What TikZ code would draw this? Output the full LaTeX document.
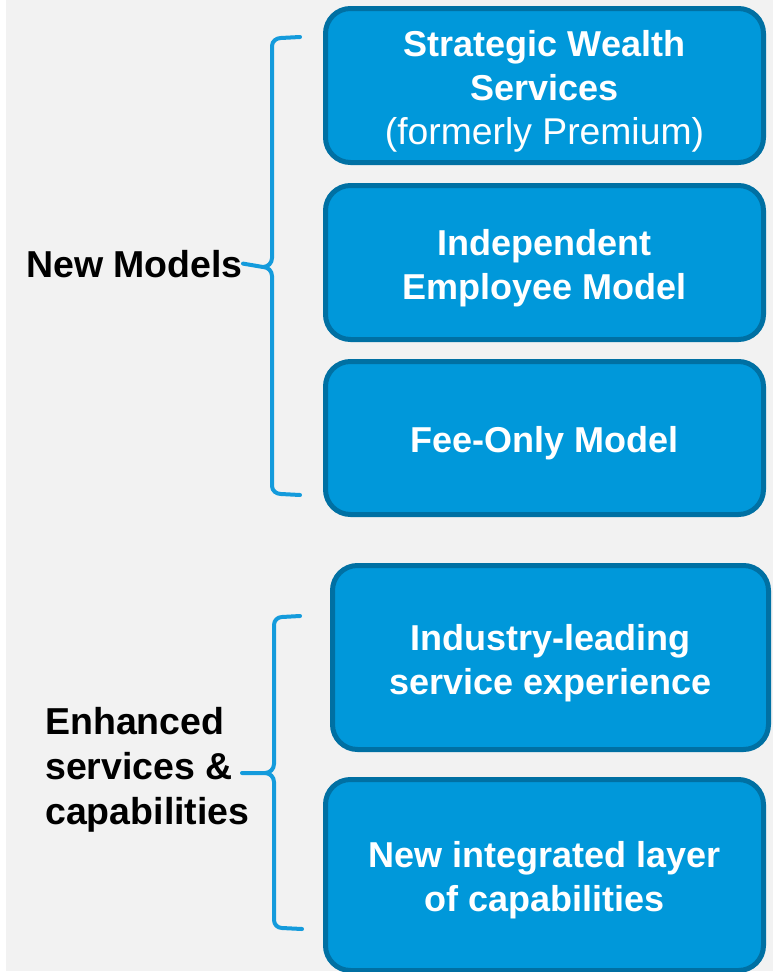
\documentclass[tikz,border=0pt]{standalone}
\usepackage{fontspec}
\setmainfont{Liberation Sans}
\definecolor{boxblue}{RGB}{0,152,218}
\definecolor{boxedge}{RGB}{0,112,163}
\definecolor{braceblue}{RGB}{20,155,220}
\definecolor{bggray}{RGB}{242,242,242}
% struts that keep the box text low, as in the slide
\newcommand{\topstr}{\rule{0pt}{39pt}}
\newcommand{\botstr}{\rule[-10pt]{0pt}{10pt}}
\begin{document}
\begin{tikzpicture}[
    x=1pt, y=-1pt,
    block/.style={draw=boxedge, fill=boxblue, line width=5pt, rounded corners=25pt, minimum width=438pt, minimum height=154pt, align=center, text=white, font=\fontsize{36}{44}\selectfont\bfseries, inner sep=0pt},
    lbl/.style={inner sep=0pt, align=left, font=\fontsize{37.5}{45}\selectfont\bfseries},
    brc/.style={draw=braceblue, line width=4pt, line cap=round, line join=round},
]
% --- Background ---
\useasboundingbox (0,0) rectangle (773,972);
\fill[white] (0,0) rectangle (773,972);
\fill[bggray] (6,0) rectangle (773,971);

% --- Column 2: Boxes ---
\node[block] (sws) at (544.5, 85.5) {\topstr Strategic Wealth\\Services\\{\mdseries\fontsize{37.3}{44}\selectfont (formerly Premium)}\botstr};
\node[block] (iem) at (544.5, 262.5) {\topstr Independent\\Employee Model\botstr};
\node[block, minimum height=153pt] (fom) at (544.5, 438) {\topstr Fee-Only Model\botstr};
\node[block, minimum width=436pt, minimum height=184pt] (ils) at (550.5, 657.5) {\topstr Industry-leading\\service experience\botstr};
\node[block, minimum height=191pt] (nil) at (544.5, 875) {\rule{0pt}{39pt}New integrated layer\\of capabilities\botstr};

% --- Column 1: Labels ---
\node[lbl, anchor=base east] (newm) at (243, 277) {New Models};
\node[lbl, anchor=north west] (enh) at (45, 707) {Enhanced\\services \&\\capabilities};

% === Braces ===
\coordinate (b1top) at (300, 37);
\coordinate (b1bot) at (300, 495);
\coordinate (b2top) at (300, 616);
\coordinate (b2bot) at (302, 929);
\coordinate (b2tip) at (242, 773);

\draw[brc] (b1top) -- (281, 38) to[out=180, in=90] (272, 46) -- (272, 258) to[out=-90, in=0] (263, 267) -- (newm.east);
\draw[brc] (263, 267) to[out=0, in=90] (272, 276) -- (272, 486) to[out=-90, in=180] (281, 494) -- (b1bot);
\draw[brc] (b2top) -- (282, 617) to[out=180, in=90] (274, 625) -- (274, 764) to[out=-90, in=0] (265, 773) -- (b2tip);
\draw[brc] (265, 773) to[out=0, in=90] (274, 782) -- (274, 920) to[out=-90, in=180] (282, 928) -- (b2bot);

\end{tikzpicture}
\end{document}
